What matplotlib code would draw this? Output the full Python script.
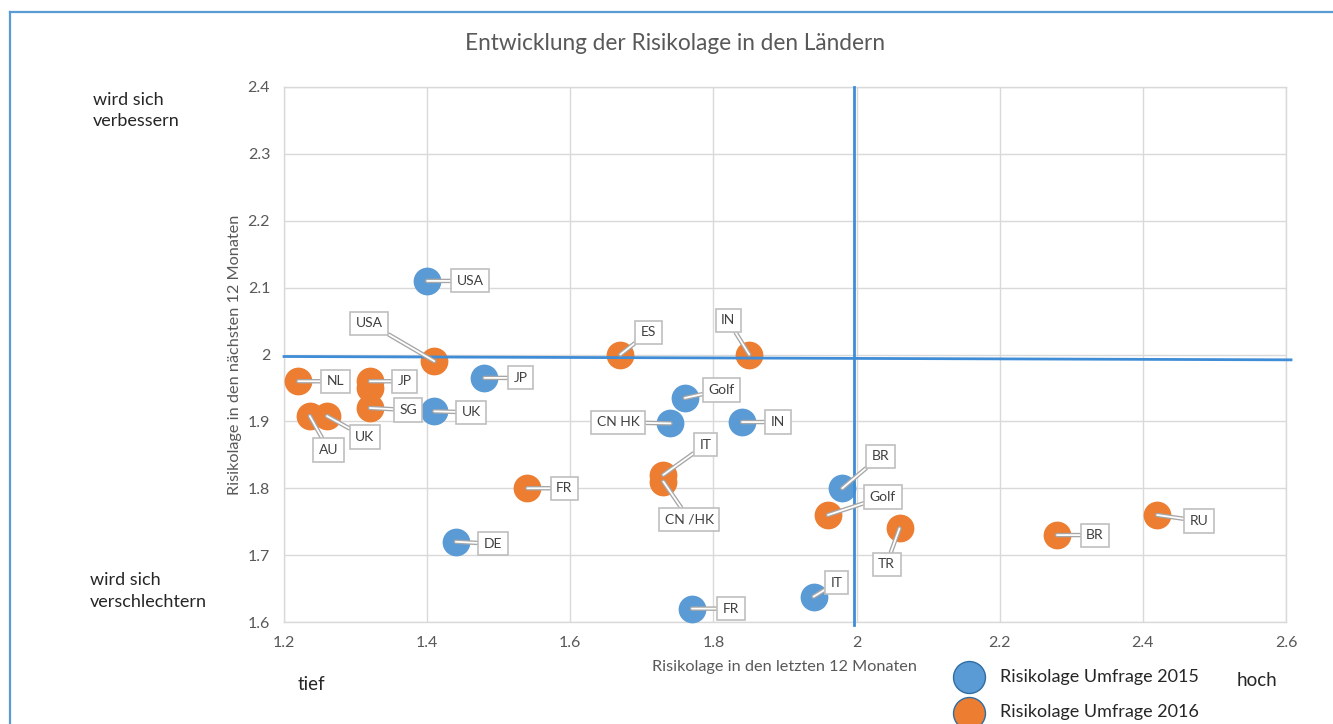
import matplotlib
matplotlib.use("Agg")
import matplotlib.pyplot as plt
import matplotlib.patheffects as pe
from matplotlib.lines import Line2D

plt.rcParams['font.family'] = ['Lato', 'DejaVu Sans']

# --- Umfrage 2015 (blau)
labels_2015 = ['USA', 'JP', 'UK', 'Golf', 'CN HK', 'IN', 'BR', 'DE', 'FR', 'IT']
x_2015 = [1.40, 1.48, 1.41, 1.76, 1.74, 1.84, 1.98, 1.44, 1.77, 1.94]
y_2015 = [2.11, 1.965, 1.915, 1.935, 1.897, 1.899, 1.80, 1.72, 1.62, 1.638]
# --- Versatz der Beschriftung in Pixeln (rechts, unten)
off_2015 = [(43, 0), (36, 0), (37, 1), (37, -8), (-52, -1), (36, 0),
            (38, -32), (37, 2), (39, 0), (23, -14)]

# --- Umfrage 2016 (orange)
labels_2016 = ['USA', 'ES', 'IN', 'NL', 'JP', '', 'SG', 'AU', 'UK', 'FR',
               'IT', 'CN /HK', 'Golf', 'TR', 'BR', 'RU']
x_2016 = [1.41, 1.67, 1.85, 1.22, 1.32, 1.32, 1.32, 1.236, 1.26, 1.54,
          1.73, 1.73, 1.96, 2.06, 2.28, 2.42]
y_2016 = [1.99, 2.0, 2.0, 1.96, 1.96, 1.95, 1.92, 1.908, 1.908, 1.80,
          1.82, 1.81, 1.76, 1.74, 1.73, 1.76]
off_2016 = [(-65, -38), (28, -22), (-21, -34), (37, 0), (35, 0), (0, 0),
            (38, 2), (19, 34), (38, 21), (37, 0), (42, -30), (26, 38),
            (55, -18), (-13, 36), (38, 0), (42, 6)]

x_ticks = [1.2, 1.4, 1.6, 1.8, 2.0, 2.2, 2.4, 2.6]
x_ticklabels = ['1.2', '1.4', '1.6', '1.8', '2', '2.2', '2.4', '2.6']
y_ticks = [1.6, 1.7, 1.8, 1.9, 2.0, 2.1, 2.2, 2.3, 2.4]
y_ticklabels = ['1.6', '1.7', '1.8', '1.9', '2', '2.1', '2.2', '2.3', '2.4']

# --- Trennlinien der Quadranten
h_line_x = [1.2, 2.607]
h_line_y = [1.997, 1.992]
v_line_x = [1.997, 1.997]
v_line_y = [1.595, 2.4]

BLUE = '#5B9BD5'
ORANGE = '#ED7D31'
LINE_BLUE = '#3F8DD6'
GRAY_TXT = '#595959'

fig = plt.figure(figsize=(13.33, 7.24), dpi=100)
ax = fig.add_axes([284 / 1333, 1 - 622 / 724, 1002 / 1333, 535 / 724])

ax.set_xlim(1.2, 2.6)
ax.set_ylim(1.6, 2.4)
ax.set_xticks(x_ticks)
ax.set_xticklabels(x_ticklabels)
ax.set_yticks(y_ticks)
ax.set_yticklabels(y_ticklabels)
ax.tick_params(length=0, labelsize=11.5, labelcolor=GRAY_TXT, pad=10)
ax.grid(True, color='#D9D9D9', lw=1)
ax.set_axisbelow(True)
for sp in ax.spines.values():
    sp.set_color('#D9D9D9')
    sp.set_linewidth(1)

sc15 = ax.scatter(x_2015, y_2015, s=400, color=BLUE, lw=0, zorder=3, clip_on=False)
sc16 = ax.scatter(x_2016, y_2016, s=400, color=ORANGE, lw=0, zorder=3, clip_on=False)

ax.plot(h_line_x, h_line_y, color=LINE_BLUE, lw=2, zorder=4, clip_on=False)
ax.plot(v_line_x, v_line_y, color=LINE_BLUE, lw=2, zorder=4, clip_on=False)

leader = dict(arrowstyle='-', color='white', lw=1.3, shrinkA=0, shrinkB=0,
              path_effects=[pe.Stroke(linewidth=3.2, foreground='#A6A6A6'), pe.Normal()])
box = dict(boxstyle='square,pad=0.4', fc='white', ec='#BFBFBF', lw=1.2)


def beschriften(xs, ys, labels, offs):
    for x, y, lab, (dx, dy) in zip(xs, ys, labels, offs):
        if not lab:
            continue
        ax.annotate(lab, (x, y), xytext=(dx, -dy), textcoords='offset pixels',
                    ha='center', va='center', fontsize=10, color='#404040',
                    bbox=box, arrowprops=leader, zorder=5, annotation_clip=False)


beschriften(x_2015, y_2015, labels_2015, off_2015)
beschriften(x_2016, y_2016, labels_2016, off_2016)

ax.set_xlabel('Risikolage in den letzten 12 Monaten', fontsize=11.7, color=GRAY_TXT)
ax.xaxis.set_label_coords(0.5, -0.071)
ax.set_ylabel('Risikolage in den nächsten 12 Monaten', fontsize=11.7, color=GRAY_TXT)
ax.yaxis.set_label_coords(-0.042, 0.5)

fig.text(675 / 1333, 1 - 43 / 724, 'Entwicklung der Risikolage in den Ländern',
         ha='center', va='center', fontsize=16.3, color=GRAY_TXT)

fig.text(93 / 1333, 1 - 110.5 / 724, 'wird sich\nverbessern', ha='left', va='center',
         fontsize=13, color='#262626', linespacing=1.4)
fig.text(90 / 1333, 1 - 591 / 724, 'wird sich\nverschlechtern', ha='left', va='center',
         fontsize=13, color='#262626', linespacing=1.4)
fig.text(311 / 1333, 1 - 685 / 724, 'tief', ha='center', va='center',
         fontsize=13.5, color='#262626')
fig.text(1257 / 1333, 1 - 680 / 724, 'hoch', ha='center', va='center',
         fontsize=13.5, color='#262626')

leg = fig.legend([sc15, sc16], ['Risikolage Umfrage 2015', 'Risikolage Umfrage 2016'],
                 loc='center left', bbox_to_anchor=(955 / 1333, 1 - 694.5 / 724),
                 frameon=False, fontsize=13, handlelength=1.5, handletextpad=1.0,
                 labelspacing=1.1, borderpad=0, borderaxespad=0, markerscale=1.15)
for t in leg.get_texts():
    t.set_color('#262626')
for h in leg.legend_handles:
    h.set_edgecolor('#2E6DA4')
    h.set_linewidth(1)

# --- Rahmen
fig.add_artist(Line2D([10 / 1333, 10 / 1333], [0, 1 - 12 / 724], color=BLUE, lw=1.6))
fig.add_artist(Line2D([10 / 1333, 1], [1 - 12 / 724, 1 - 12 / 724], color=BLUE, lw=1.6))

fig.savefig('out.png', dpi=100)
